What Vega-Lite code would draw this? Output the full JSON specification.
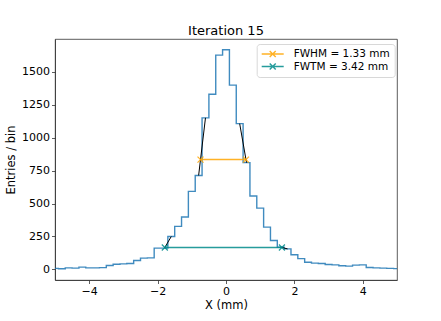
{
  "$schema": "https://vega.github.io/schema/vega-lite/v6.json",
  "width": 342,
  "height": 241,
  "autosize": "none",
  "padding": {"left": 55, "top": 39, "right": 44, "bottom": 41},
  "background": "white",
  "title": {"text": "Iteration 15", "fontSize": 13, "fontWeight": "normal", "font": "DejaVu Sans", "color": "black", "anchor": "middle", "offset": 1},
  "config": {
    "view": {"stroke": "#333", "strokeWidth": 0.8},
    "axis": {
      "grid": false, "domainColor": "#333", "domainWidth": 0.8, "tickColor": "#333", "tickSize": 3.5, "tickWidth": 0.8,
      "labelFont": "DejaVu Sans", "labelFontSize": 11, "labelColor": "black", "labelPadding": 2,
      "titleFont": "DejaVu Sans", "titleFontSize": 11.5, "titleFontWeight": "normal", "titleColor": "black"
    },
    "legend": {
      "orient": "none", "legendX": 201.7, "legendY": 5, "padding": 4,
      "strokeColor": "#d8d8d8", "fillColor": "rgba(255,255,255,0.8)", "cornerRadius": 3,
      "labelFont": "DejaVu Sans", "labelFontSize": 10.5, "labelColor": "black", "labelOffset": 21,
      "symbolType": "M-1,0L3.4,0M0.6,-0.6L1.8,0.6M0.6,0.6L1.8,-0.6",
      "symbolSize": 100, "symbolStrokeWidth": 1.4, "symbolFillColor": "transparent", "rowPadding": 0.5
    }
  },
  "datasets": {
    "hist": [
      {"x": -5.0, "count": 8}, {"x": -4.8, "count": 5}, {"x": -4.6, "count": 12}, {"x": -4.4, "count": 10},
      {"x": -4.2, "count": 18}, {"x": -4.0, "count": 12}, {"x": -3.8, "count": 12}, {"x": -3.6, "count": 14},
      {"x": -3.4, "count": 30}, {"x": -3.2, "count": 40}, {"x": -3.0, "count": 42}, {"x": -2.8, "count": 45},
      {"x": -2.6, "count": 68}, {"x": -2.4, "count": 86}, {"x": -2.2, "count": 88}, {"x": -2.0, "count": 162},
      {"x": -1.8, "count": 162}, {"x": -1.6, "count": 250}, {"x": -1.4, "count": 327}, {"x": -1.2, "count": 398},
      {"x": -1.0, "count": 592}, {"x": -0.8, "count": 713}, {"x": -0.6, "count": 1150}, {"x": -0.4, "count": 1329},
      {"x": -0.2, "count": 1626}, {"x": 0.0, "count": 1667}, {"x": 0.2, "count": 1398}, {"x": 0.4, "count": 1106},
      {"x": 0.6, "count": 810}, {"x": 0.8, "count": 557}, {"x": 1.0, "count": 465}, {"x": 1.2, "count": 321},
      {"x": 1.4, "count": 220}, {"x": 1.6, "count": 169}, {"x": 1.8, "count": 156}, {"x": 2.0, "count": 111},
      {"x": 2.2, "count": 82}, {"x": 2.4, "count": 55}, {"x": 2.6, "count": 48}, {"x": 2.8, "count": 45},
      {"x": 3.0, "count": 38}, {"x": 3.2, "count": 35}, {"x": 3.4, "count": 28}, {"x": 3.6, "count": 25},
      {"x": 3.8, "count": 33}, {"x": 4.0, "count": 35}, {"x": 4.2, "count": 15}, {"x": 4.4, "count": 12},
      {"x": 4.6, "count": 10}, {"x": 4.8, "count": 8}, {"x": 5.0, "count": 6}
    ],
    "segs": [
      {"seg": "hl", "x": -0.8, "y": 713}, {"seg": "hl", "x": -0.6, "y": 1150},
      {"seg": "hr", "x": 0.4, "y": 1106}, {"seg": "hr", "x": 0.6, "y": 810},
      {"seg": "tl", "x": -1.8, "y": 162}, {"seg": "tl", "x": -1.6, "y": 250},
      {"seg": "tr", "x": 1.6, "y": 169}, {"seg": "tr", "x": 1.8, "y": 156}
    ],
    "widths": [
      {"label": "FWHM = 1.33 mm", "x": -0.745, "y": 833.5}, {"label": "FWHM = 1.33 mm", "x": 0.584, "y": 833.5},
      {"label": "FWTM = 3.42 mm", "x": -1.789, "y": 166.7}, {"label": "FWTM = 3.42 mm", "x": 1.635, "y": 166.7}
    ]
  },
  "layer": [
    {
      "data": {"name": "hist"},
      "mark": {"type": "line", "interpolate": "step", "color": "#1f77b4", "strokeWidth": 1.4, "opacity": 0.85, "clip": true},
      "encoding": {
        "x": {"field": "x", "type": "quantitative", "scale": {"domain": [-5, 5], "nice": false, "zero": false},
              "axis": {"values": [-4, -2, 0, 2, 4], "format": "d", "title": "X (mm)", "titlePadding": 3}},
        "y": {"field": "count", "type": "quantitative", "scale": {"domain": [-80, 1748], "nice": false, "zero": false},
              "axis": {"values": [0, 250, 500, 750, 1000, 1250, 1500], "format": "d", "title": "Entries / bin", "titlePadding": 5}}
      }
    },
    {
      "data": {"name": "segs"},
      "mark": {"type": "line", "color": "black", "strokeWidth": 1, "clip": true},
      "encoding": {
        "x": {"field": "x", "type": "quantitative"},
        "y": {"field": "y", "type": "quantitative"},
        "detail": {"field": "seg"}
      }
    },
    {
      "data": {"name": "widths"},
      "mark": {"type": "line", "strokeWidth": 1.5, "opacity": 0.85, "clip": true},
      "encoding": {
        "x": {"field": "x", "type": "quantitative"},
        "y": {"field": "y", "type": "quantitative"},
        "color": {"field": "label", "type": "nominal",
                  "scale": {"domain": ["FWHM = 1.33 mm", "FWTM = 3.42 mm"], "range": ["#ffa500", "#008b8b"]},
                  "legend": {"title": null}}
      }
    },
    {
      "data": {"name": "widths"},
      "mark": {"type": "point", "shape": "M-1,-1L1,1M-1,1L1,-1", "filled": false, "size": 36, "strokeWidth": 1.2, "opacity": 0.85},
      "encoding": {
        "x": {"field": "x", "type": "quantitative"},
        "y": {"field": "y", "type": "quantitative"},
        "color": {"field": "label", "type": "nominal", "legend": null}
      }
    }
  ]
}
